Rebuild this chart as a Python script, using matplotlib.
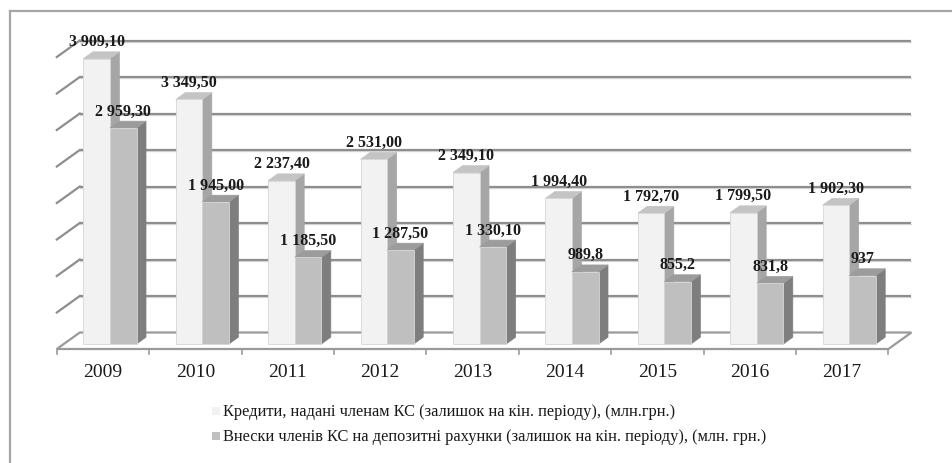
import matplotlib
matplotlib.use("Agg")
import matplotlib.pyplot as plt
from matplotlib.patches import Polygon
from matplotlib.transforms import ScaledTranslation

# ---------------- data ----------------
years = ["2009", "2010", "2011", "2012", "2013", "2014", "2015", "2016", "2017"]
credits = [3909.10, 3349.50, 2237.40, 2531.00, 2349.10, 1994.40, 1792.70, 1799.50, 1902.30]
deposits = [2959.30, 1945.00, 1185.50, 1287.50, 1330.10, 989.8, 855.2, 831.8, 937]
credit_labels = ["3 909,10", "3 349,50", "2 237,40", "2 531,00", "2 349,10",
                 "1 994,40", "1 792,70", "1 799,50", "1 902,30"]
deposit_labels = ["2 959,30", "1 945,00", "1 185,50", "1 287,50", "1 330,10",
                  "989,8", "855,2", "831,8", "937"]
legend_labels = ["Кредити, надані членам КС (залишок на кін. періоду), (млн.грн.)",
                 "Внески членів КС на депозитні рахунки (залишок на кін. періоду), (млн. грн.)"]
grid_values = [0, 500, 1000, 1500, 2000, 2500, 3000, 3500, 4000]

# ---------------- layout ----------------
W, H, DPI = 952, 464, 100
fig = plt.figure(figsize=(W / DPI, H / DPI), dpi=DPI)
fig.patch.set_facecolor("white")
ax = fig.add_axes([0, 0, 1, 1])
ax.set_axis_off()

ppc = 92.4          # pixels per category
x0_px = 110.0       # pixel x of category 0 centre (bar front plane)
y0_px = 345.0       # pixel y (from top) of value 0 (bar front plane)
ppu = 292.0 / 4000  # pixels per value unit
ax.set_xlim((0 - x0_px) / ppc, (W - x0_px) / ppc)
ax.set_ylim((y0_px - H) / ppu, (y0_px - 0) / ppu)

def off(dx, dy):
    return ax.transData + ScaledTranslation(dx / DPI, dy / DPI, fig.dpi_scale_trans)

t_front = off(-7, -5)      # floor front edge
t_back = off(16, 11.5)     # back wall
bdx, bdy = 9.4, 6.8        # bar depth in pixels

serif = ["Liberation Serif", "DejaVu Serif"]
grid_c = "#8E8E8E"
inv = ax.transData.inverted()

# back wall gridlines (with light shadow) and left wall slants
xl, xr = -0.5, len(years) - 0.5
for v in grid_values[1:]:
    ax.plot([xl, xr], [v, v], color="#DCDCDC", lw=1.0, transform=off(16, 10.2), zorder=1)
    ax.plot([xl, xr], [v, v], color=grid_c, lw=1.6, transform=t_back, zorder=2,
            solid_capstyle="butt")
    a = inv.transform(t_front.transform((xl, v)))
    b = inv.transform(t_back.transform((xl, v)))
    ax.plot([a[0], b[0]], [a[1], b[1]], color=grid_c, lw=1.6, zorder=2)

# floor
corners = [t_front.transform((xl, 0)), t_front.transform((xr, 0)),
           t_back.transform((xr, 0)), t_back.transform((xl, 0))]
corners = [inv.transform(c) for c in corners]
ax.add_patch(Polygon(corners, closed=True, facecolor="white", edgecolor="#9A9A9A",
                     lw=1.6, zorder=3))
# floor ticks
for k in range(len(years) + 1):
    p = t_front.transform((xl + k, 0))
    a = inv.transform(p)
    b = inv.transform((p[0], p[1] - 5))
    ax.plot([a[0], b[0]], [a[1], b[1]], color="#9A9A9A", lw=1.2, zorder=3)

bw = 26.6 / ppc
ddx = bdx / ppc
ddy = bdy / ppu

def bar3d(x0, x1, v, front, top, side, z):
    ax.add_patch(Polygon([(x1, 0), (x1 + ddx, ddy), (x1 + ddx, v + ddy), (x1, v)],
                         closed=True, facecolor=side, edgecolor=side, lw=0.5, zorder=z))
    ax.add_patch(Polygon([(x0, v), (x1, v), (x1 + ddx, v + ddy), (x0 + ddx, v + ddy)],
                         closed=True, facecolor=top, edgecolor=top, lw=0.5, zorder=z))
    ax.add_patch(Polygon([(x0, 0), (x1, 0), (x1, v), (x0, v)],
                         closed=True, facecolor=front, edgecolor="#D6D6D6", lw=0.6, zorder=z + 0.1))

for i, (c, d) in enumerate(zip(credits, deposits)):
    bar3d(i - bw, i, c, "#F2F2F2", "#C4C4C4", "#A6A6A6", 4 + i * 0.01)
    bar3d(i, i + bw, d, "#BFBFBF", "#9C9C9C", "#7E7E7E", 4.5 + i * 0.01)

# data labels
for i, (c, d) in enumerate(zip(credits, deposits)):
    ax.text(i - bw / 2, c, credit_labels[i], transform=off(0, 17.5), ha="center", va="center",
            fontsize=11.5, fontweight="bold", family=serif, color="#1A1A1A", zorder=10)
    ax.text(i + bw / 2, d, deposit_labels[i], transform=off(0, 17.5), ha="center", va="center",
            fontsize=11.5, fontweight="bold", family=serif, color="#1A1A1A", zorder=10)

# category labels
for i, y in enumerate(years):
    ax.text(i, 0, y, transform=off(-7, -28), ha="center", va="center",
            fontsize=14, family=serif, color="#1A1A1A")

# legend
leg_y = [412, 437]
leg_c = ["#F2F2F2", "#BFBFBF"]
for yy, col, lab in zip(leg_y, leg_c, legend_labels):
    fig.patches.append(plt.Rectangle((212 / W, 1 - (yy + 4) / H), 8 / W, 8 / H,
                                     transform=fig.transFigure, facecolor=col,
                                     edgecolor="none", figure=fig))
    fig.text(223 / W, 1 - yy / H, lab, ha="left", va="center", fontsize=11.8,
             family=serif, color="#1A1A1A")

# outer frame (left and top)
fig.lines.append(plt.Line2D([9.5 / W, 9.5 / W], [0, 1 - 12 / H], transform=fig.transFigure,
                            color="#A6A6A6", lw=1.6, figure=fig))
fig.lines.append(plt.Line2D([9.5 / W, 1], [1 - 12 / H, 1 - 12 / H], transform=fig.transFigure,
                            color="#A6A6A6", lw=1.6, figure=fig))

fig.savefig("out.png", dpi=DPI, facecolor="white")
